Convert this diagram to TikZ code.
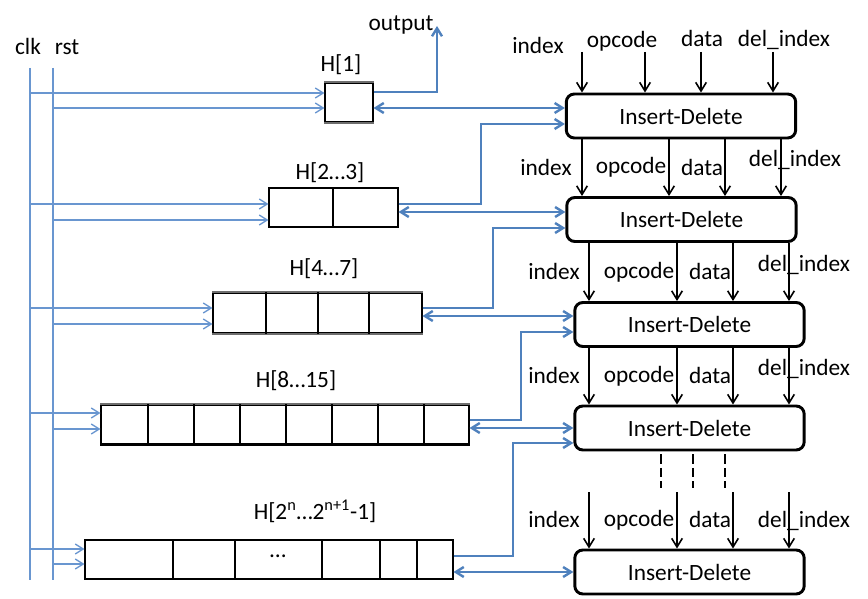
\documentclass[tikz,border=0pt]{standalone}
\usepackage{fontspec}
\setmainfont{Carlito}
\usetikzlibrary{arrows.meta,calc}
\definecolor{lnblue}{RGB}{79,129,189}
\definecolor{thinblue}{RGB}{105,150,208}
\definecolor{edgegray}{RGB}{110,110,110}
\begin{document}
\begin{tikzpicture}[x=0.75pt,y=-0.75pt,
  font=\fontsize{17.5pt}{21pt}\selectfont,
  idbox/.style={draw, line width=2.2pt, rounded corners=6pt, minimum width=172pt, minimum height=33pt, inner sep=0pt},
  hbox/.style={draw, line width=0.8pt, inner sep=0pt},
  lbl/.style={anchor=base, inner sep=0pt},
  tipb/.tip={Straight Barb[length=6pt,width=7.5pt]},
  ctl/.style={draw=thinblue, line width=1pt, -tipb},
  ctlline/.style={draw=thinblue, line width=1pt},
  busarr/.style={draw=lnblue, line width=1.8pt, -tipb},
  bidir/.style={draw=lnblue, line width=1.8pt, tipb-tipb},
  sig/.style={draw=black, line width=1.2pt, -{Straight Barb[length=6.5pt,width=8pt]}},
  dashsig/.style={draw=black, line width=1.2pt, dash pattern=on 7pt off 3pt},
  grayedge/.style={draw=edgegray, line width=1.5pt},
]
\path[fill=white, use as bounding box] (0,0) rectangle (868,599);

% clk / rst
\node[lbl] (clk) at (28,55) {clk};
\node[lbl] (rst) at (67,55) {rst};
\coordinate (clkT) at (30,68);
\coordinate (clkB) at (30,580);
\coordinate (rstT) at (53,68);
\coordinate (rstB) at (53,580);
\draw[ctlline] (clkT) -- (clkB);
\draw[ctlline] (rstT) -- (rstB);

% heap level boxes
\node[hbox, minimum width=36pt, minimum height=29.25pt] (h1) at (349,102.5) {};
\node[hbox, minimum width=96.75pt, minimum height=29.25pt] (h2) at (333.5,207.5) {};
\node[hbox, minimum width=156.75pt, minimum height=30pt] (h3) at (317.5,313) {};
\node[hbox, minimum width=276pt, minimum height=29.25pt] (h4) at (285,424.5) {};
\node[hbox, minimum width=276pt, minimum height=29.25pt] (h5) at (269,559.5) {};

\draw[grayedge] (h1.north west) -- (h1.north east);
\draw[grayedge] (h1.south west) -- (h1.south east);
\draw[grayedge] (h3.north west) -- (h3.north east);
\draw[grayedge] (h3.south west) -- (h3.south east);
\draw[grayedge] (h4.north west) -- (h4.north east);
\draw[black, line width=2.2pt] (h4.south west) -- (h4.south east);

\draw[line width=0.8pt] (333,0 |- h2.north) -- (333,0 |- h2.south);
\foreach \x in {266,318,369}
  \draw[line width=0.8pt] (\x,0 |- h3.north) -- (\x,0 |- h3.south);
\foreach \x in {148,194,240,286,332,378,424}
  \draw[line width=0.8pt] (\x,0 |- h4.north) -- (\x,0 |- h4.south);
\foreach \x in {173,235,322,380,417}
  \draw[line width=0.8pt] (\x,0 |- h5.north) -- (\x,0 |- h5.south);
\node[lbl] (dots) at (278,557) {…};

% level labels
\node[lbl] (l1) at (341,72) {H[1]};
\node[lbl] (l2) at (330,180) {H[2…3]};
\node[lbl] (l3) at (324,276) {H[4…7]};
\node[lbl] (l4) at (296,387) {H[8…15]};
\node[lbl] (l5) at (315,519) {H[2\textsuperscript{n}…2\textsuperscript{n+1}-1]};

% clk / rst arrows
\foreach \b/\yc/\yr in {h1/93/108, h2/204/220, h3/308/324, h4/413/429, h5/549/564}{
  \draw[ctl] (clkT |- 0,\yc) -- (\b.west |- 0,\yc);
  \draw[ctl] (rstT |- 0,\yr) -- (\b.west |- 0,\yr);
}

% Insert-Delete units
\node[idbox] (id1) at (681,116) {Insert-Delete};
\node[idbox] (id2) at (681.5,219.5) {Insert-Delete};
\node[idbox] (id3) at (689.5,324.5) {Insert-Delete};
\node[idbox] (id4) at (689.5,428) {Insert-Delete};
\node[idbox] (id5) at (689.5,572) {Insert-Delete};

% output
\node[lbl] (outlbl) at (401,31) {output};
\coordinate (outtip) at (437,26);
\draw[busarr] (h1.east |- 0,92) -| (outtip);

% bidirectional links
\draw[bidir] (h1.east |- 0,108) -- (id1.west |- 0,108);
\draw[bidir] (h2.east |- 0,212) -- (id2.west |- 0,212);
\draw[bidir] (h3.east |- 0,316) -- (id3.west |- 0,316);
\draw[bidir] (h4.east |- 0,428) -- (id4.west |- 0,428);
\draw[bidir] (h5.east |- 0,572) -- (id5.west |- 0,572);

% risers from lower levels to upper units
\draw[busarr] (h2.east |- 0,204) -- (481,204) -- (481,124) -- (id1.west |- 0,124);
\draw[busarr] (h3.east |- 0,308) -- (493,308) -- (493,228) -- (id2.west |- 0,228);
\draw[busarr] (h4.east |- 0,420) -- (521,420) -- (521,332) -- (id3.west |- 0,332);
\draw[busarr] (h5.east |- 0,556) -- (513,556) -- (513,443) -- (id4.west |- 0,443);

% signal arrows
\foreach \x in {582,645,701,773}
  \draw[sig] (\x,52) -- (\x,0 |- id1.north);
\foreach \x in {582,669,725,781}
  \draw[sig] (\x,0 |- id1.south) -- (\x,0 |- id2.north);
\foreach \x in {589,677,733,789}{
  \draw[sig] (\x,0 |- id2.south) -- (\x,0 |- id3.north);
  \draw[sig] (\x,0 |- id3.south) -- (\x,0 |- id4.north);
  \draw[sig] (\x,492) -- (\x,0 |- id5.north);
}
\foreach \x in {661,693,725}
  \draw[dashsig] (\x,0 |- id4.south) ++(0,3) -- (\x,488);

% signal labels
\node[lbl] (a1) at (538,54) {index};
\node[lbl] (b1) at (622,48) {opcode};
\node[lbl] (c1) at (702,47) {data};
\node[lbl] (d1) at (784,47) {del\_index};

\node[lbl] (a2) at (546,176) {index};
\node[lbl] (b2) at (631,174) {opcode};
\node[lbl] (c2) at (702,176) {data};
\node[lbl] (d2) at (795,167) {del\_index};

\node[lbl] (a3) at (554,279) {index};
\node[lbl] (b3) at (639,278) {opcode};
\node[lbl] (c3) at (710,279) {data};
\node[lbl] (d3) at (804,272) {del\_index};

\node[lbl] (a4) at (554,383) {index};
\node[lbl] (b4) at (639,382) {opcode};
\node[lbl] (c4) at (710,383) {data};
\node[lbl] (d4) at (804,375) {del\_index};

\node[lbl] (a5) at (554,527) {index};
\node[lbl] (b5) at (639,526) {opcode};
\node[lbl] (c5) at (710,527) {data};
\node[lbl] (d5) at (804,527) {del\_index};
\end{tikzpicture}
\end{document}
